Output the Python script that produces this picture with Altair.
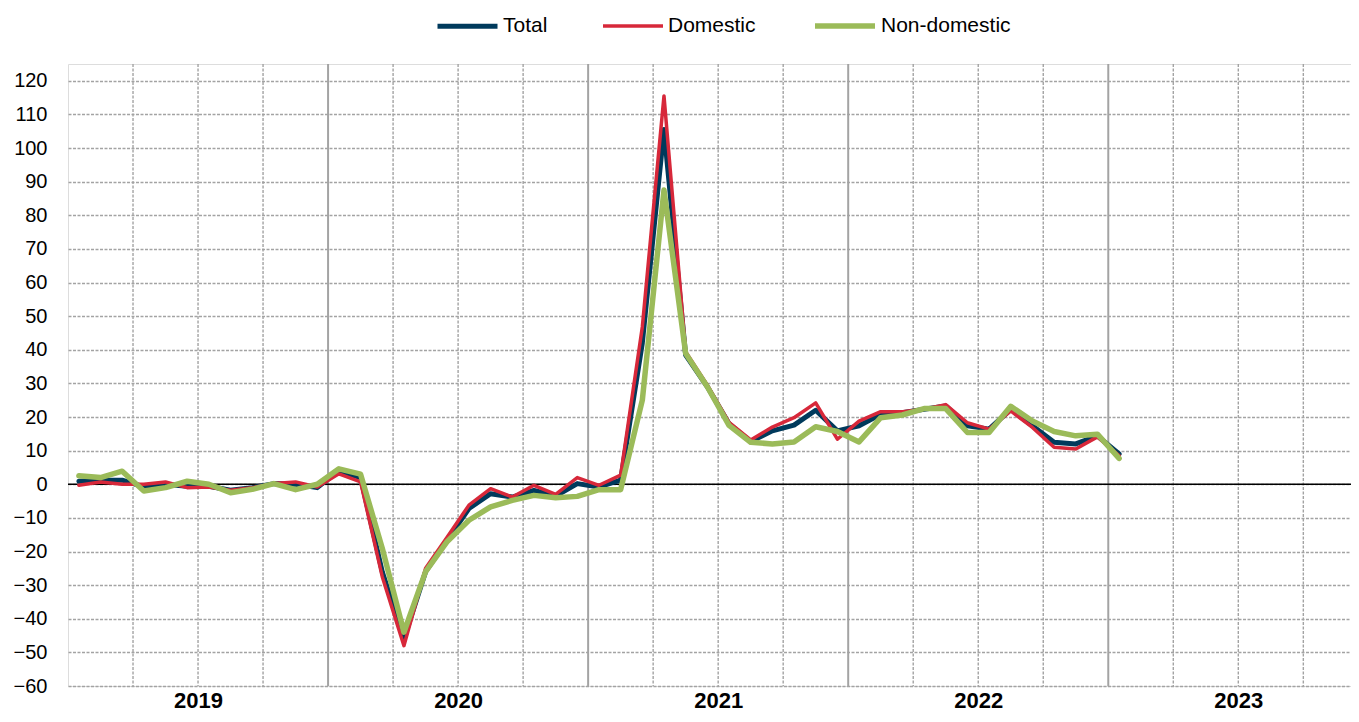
import altair as alt
import pandas as pd

# ---- data ----
months = [f"{y}-{m:02d}" for y in range(2019, 2023) for m in range(1, 13)] + ["2023-01"]

total = [0.9, 1.2, 1.2, -0.8, 0.0, -0.6, -0.6, -1.8, -1.0, 0.2, 0.0, -1.0,
         4.0, 2.0, -26.0, -46.0, -26.0, -16.5, -7.2, -2.8, -3.8, -1.8, -3.5, 0.2,
         -0.8, 1.2, 42.0, 105.5, 38.4, 29.0, 18.0, 12.7, 15.9, 17.6, 22.0, 15.9,
         17.4, 20.8, 21.3, 22.3, 23.3, 17.4, 16.4, 22.3, 17.4, 12.5, 12.0, 14.4,
         9.0]
domestic = [-0.3, 0.7, 0.0, 0.0, 0.7, -1.0, -0.8, -1.8, -1.0, 0.2, 0.7, -0.8,
            3.1, 0.7, -27.5, -48.0, -25.0, -15.7, -6.2, -1.3, -3.8, -0.3, -3.0, 2.0,
            -0.3, 2.7, 46.8, 115.5, 39.4, 29.5, 18.4, 13.2, 17.0, 19.8, 24.2, 13.4,
            18.8, 21.6, 21.6, 22.3, 23.7, 18.3, 16.4, 21.8, 16.9, 11.0, 10.5, 14.1,
            8.5]
non_domestic = [2.5, 2.0, 3.9, -2.0, -1.0, 0.9, 0.0, -2.5, -1.5, 0.2, -1.6, 0.0,
                4.6, 3.0, -19.0, -44.0, -26.0, -17.0, -10.7, -6.7, -4.8, -3.3, -4.0, -3.6,
                -1.6, -1.6, 25.0, 87.5, 38.9, 29.0, 17.5, 12.5, 12.0, 12.6, 17.1, 15.7,
                12.6, 19.8, 20.6, 22.5, 22.5, 15.4, 15.4, 23.2, 18.8, 15.7, 14.4, 14.9,
                7.7]

series_names = ["Total", "Domestic", "Non-domestic"]
series_colors = ["#003a5c", "#d7283a", "#9bbb59"]
series_widths = [5, 3.5, 5.5]
year_labels = [2019, 2020, 2021, 2022, 2023]
y_ticks = list(range(-60, 121, 10))

FONT = "Liberation Sans, Arial, sans-serif"

# ---- build tables ----
def month_pos(s):
    y, m = s.split("-")
    return (int(y) - year_labels[0]) * 12 + int(m) - 0.5

rows = []
for name, vals in zip(series_names, [total, domestic, non_domestic]):
    for mo, v in zip(months, vals):
        rows.append({"month": mo, "pos": month_pos(mo), "val": v, "series": name})
df = pd.DataFrame(rows)

n_months = len(year_labels) * 12
quarter_df = pd.DataFrame({"pos": [q for q in range(3, n_months, 3) if q % 12 != 0]})
year_df = pd.DataFrame({"pos": [12 * (i + 1) for i in range(len(year_labels) - 1)]})
zero_df = pd.DataFrame({"val": [0]})
year_centers = [12 * i + 6 for i in range(len(year_labels))]

GRID = "#a3a3a3"

x_enc = alt.X(
    "pos:Q",
    scale=alt.Scale(domain=[0, 59.2], nice=False, zero=False),
    axis=alt.Axis(
        values=year_centers,
        labelExpr=f"format({year_labels[0]} + (datum.value - 6) / 12, 'd')",
        grid=False, ticks=False, tickSize=0, domain=False,
        labelFontSize=22, labelFontWeight="bold", labelColor="#000000",
        labelFont=FONT, labelPadding=4, title=None,
    ),
)
y_enc = alt.Y(
    "val:Q",
    scale=alt.Scale(domain=[-60, 125], nice=False, zero=False),
    axis=alt.Axis(
        values=y_ticks, grid=True, gridColor=GRID, gridDash=[3, 1.5],
        gridWidth=1.4, ticks=False, tickSize=0, domain=False,
        labelFontSize=20, labelColor="#000000", labelFont=FONT,
        labelPadding=21, title=None,
    ),
)

legend_cfg = dict(
    orient="none", legendX=367, legendY=-71, direction="horizontal",
    title=None, symbolType="stroke", symbolSize=3600,
    labelFontSize=21, labelFont=FONT, labelColor="#000000",
    labelOffset=3, columnPadding=48,
)
color_enc = alt.Color(
    "series:N",
    scale=alt.Scale(domain=series_names, range=series_colors),
    legend=alt.Legend(**legend_cfg),
)
width_enc = alt.StrokeWidth(
    "series:N",
    scale=alt.Scale(type="ordinal", domain=series_names, range=series_widths),
    legend=alt.Legend(**legend_cfg),
)

quarter_rules = alt.Chart(quarter_df).mark_rule(
    color=GRID, strokeDash=[3, 1.5], strokeWidth=1.4
).encode(x=x_enc)
year_rules = alt.Chart(year_df).mark_rule(
    color=GRID, strokeWidth=2
).encode(x=x_enc)
zero_rule = alt.Chart(zero_df).mark_rule(color="#000000", strokeWidth=1.6).encode(y=y_enc)

line_layers = []
for name in series_names:
    line_layers.append(
        alt.Chart(df)
        .transform_filter(alt.datum.series == name)
        .mark_line(strokeJoin="round", strokeCap="round")
        .encode(x=x_enc, y=y_enc, color=color_enc, strokeWidth=width_enc,
                order="pos:Q")
    )

chart = alt.layer(quarter_rules, year_rules, zero_rule, *line_layers).properties(
    width=1283, height=622,
    autosize=alt.AutoSizeParams(type="none"),
    padding={"left": 60, "top": 56, "right": 0, "bottom": 28},
).configure_view(stroke="#d9d9d9", strokeWidth=1.5).configure(font=FONT)

chart.save("out.html", embed_options={"renderer": "svg", "actions": False})
